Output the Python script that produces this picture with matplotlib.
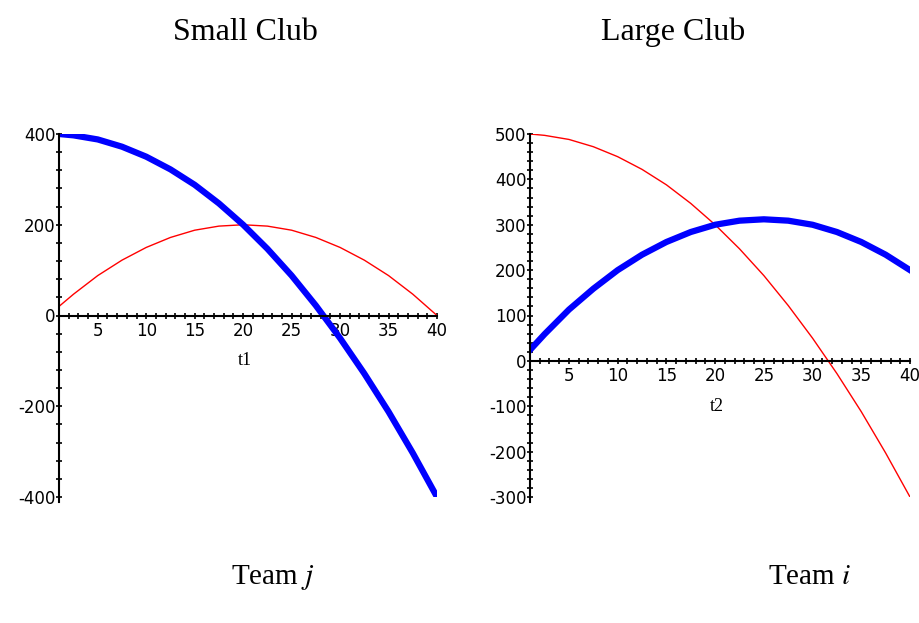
import matplotlib.pyplot as plt
from matplotlib.ticker import MultipleLocator, FixedLocator

# sample points along t
t = [1, 2.5, 5, 7.5, 10, 12.5, 15, 17.5, 20, 22.5, 25, 27.5, 30, 32.5, 35, 37.5, 40]

# Small Club (team j)
small_blue = [400, 397, 388, 372, 350, 322, 288, 247, 200, 147, 88, 22, -50, -128, -212, -303, -400]
small_red = [20, 47, 88, 122, 150, 172, 188, 197, 200, 197, 188, 172, 150, 122, 88, 47, 0]

# Large Club (team i)
large_blue = [24, 59, 113, 159, 200, 234, 262, 284, 300, 309, 312, 309, 300, 284, 262, 234, 200]
large_red = [500, 497, 488, 472, 450, 422, 388, 347, 300, 247, 188, 122, 50, -28, -112, -203, -300]

x_ticks = [5, 10, 15, 20, 25, 30, 35, 40]
small_yticks = [-400, -200, 0, 200, 400]
large_yticks = [-300, -200, -100, 0, 100, 200, 300, 400, 500]

fig = plt.figure(figsize=(9.2, 6.23), dpi=100)
tick_font = {'family': 'DejaVu Sans', 'size': 12}
serif = 'Liberation Serif'


def maple_axes(ax, ylim, yticks, yminor, xlabel):
    ax.set_xlim(1, 40)
    ax.set_ylim(*ylim)
    for s in ['top', 'right']:
        ax.spines[s].set_visible(False)
    ax.spines['bottom'].set_position(('data', 0))
    ax.spines['left'].set_position(('data', 1))
    ax.spines['left'].set_bounds(ylim[0] - 0.015 * (ylim[1] - ylim[0]), ylim[1])
    for s in ['bottom', 'left']:
        ax.spines[s].set_linewidth(1.5)
    ax.xaxis.set_major_locator(FixedLocator(x_ticks))
    ax.xaxis.set_minor_locator(MultipleLocator(1))
    ax.yaxis.set_major_locator(FixedLocator(yticks))
    ax.yaxis.set_minor_locator(MultipleLocator(yminor))
    ax.tick_params(which='both', direction='inout', length=5, width=1.2, pad=0)
    ax.tick_params(axis='x', pad=2)
    ax.set_xticklabels([str(v) for v in x_ticks], fontdict=tick_font)
    ax.set_yticklabels([str(v) for v in yticks], fontdict=tick_font)
    ax.patch.set_alpha(0)
    ax.text(20.2, -100, xlabel, family=serif, fontsize=13, ha='center', va='center')


ax1 = fig.add_axes([59 / 920, 1 - 497 / 623, 378 / 920, 363 / 623])
ax1.plot(t, small_red, color='#ff0000', lw=1.0)
ax1.plot(t, small_blue, color='#0000ff', lw=4.5)
maple_axes(ax1, (-400, 400), small_yticks, 40, 't1')

ax2 = fig.add_axes([530 / 920, 1 - 497 / 623, 380 / 920, 363 / 623])
ax2.plot(t, large_red, color='#ff0000', lw=1.0)
ax2.plot(t, large_blue, color='#0000ff', lw=4.5)
maple_axes(ax2, (-300, 500), large_yticks, 20, 't2')

fig.text(245 / 920, 1 - 32 / 623, 'Small Club', family=serif, fontsize=23, ha='center', va='center')
fig.text(673 / 920, 1 - 32 / 623, 'Large Club', family=serif, fontsize=23, ha='center', va='center')
fig.text(273 / 920, 1 - 577 / 623, 'Team $\\mathit{j}$', family=serif, fontsize=21, ha='center', va='center',
         math_fontfamily='stix')
fig.text(810 / 920, 1 - 577 / 623, 'Team $\\mathit{i}$', family=serif, fontsize=21, ha='center', va='center',
         math_fontfamily='stix')

fig.savefig('out.png', dpi=100)
